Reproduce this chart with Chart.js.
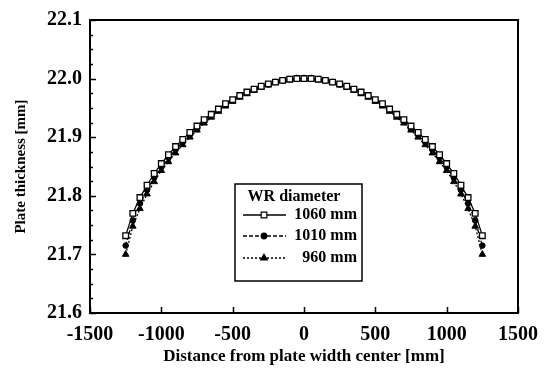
<!DOCTYPE html>
<html>
<head>
<meta charset="utf-8">
<script src="https://cdn.jsdelivr.net/npm/chart.js@4/dist/chart.umd.min.js"></script>
<style>
html,body{margin:0;padding:0;background:#fff;}
#wrap{width:548px;height:374px;position:relative;}
</style>
</head>
<body>
<div id="wrap"><canvas id="c" width="548" height="374"></canvas></div>
<script>
// ---- data ----
const positions = [-1250,-1200,-1150,-1100,-1050,-1000,-950,-900,-850,-800,-750,-700,-650,-600,-550,-500,-450,-400,-350,-300,-250,-200,-150,-100,-50,0,50,100,150,200,250,300,350,400,450,500,550,600,650,700,750,800,850,900,950,1000,1050,1100,1150,1200,1250];
const thick1060 = [21.732,21.770,21.797,21.818,21.838,21.855,21.870,21.884,21.896,21.908,21.919,21.930,21.939,21.948,21.957,21.964,21.971,21.977,21.982,21.987,21.991,21.994,21.997,21.999,22.000,22.000,22.000,21.999,21.997,21.994,21.991,21.987,21.982,21.977,21.971,21.964,21.957,21.948,21.939,21.930,21.919,21.908,21.896,21.884,21.870,21.855,21.838,21.818,21.797,21.770,21.732];
const thick1010 = [21.715,21.758,21.787,21.810,21.831,21.849,21.865,21.879,21.892,21.904,21.916,21.927,21.937,21.946,21.956,21.963,21.970,21.976,21.981,21.986,21.990,21.994,21.997,21.999,22.000,22.000,22.000,21.999,21.997,21.994,21.990,21.986,21.981,21.976,21.970,21.963,21.956,21.946,21.937,21.927,21.916,21.904,21.892,21.879,21.865,21.849,21.831,21.810,21.787,21.758,21.715];
const thick960 = [21.700,21.748,21.778,21.803,21.824,21.843,21.858,21.873,21.887,21.900,21.912,21.924,21.934,21.944,21.953,21.961,21.968,21.974,21.980,21.985,21.989,21.993,21.996,21.998,22.000,22.000,22.000,21.998,21.996,21.993,21.989,21.985,21.980,21.974,21.968,21.961,21.953,21.944,21.934,21.924,21.912,21.900,21.887,21.873,21.858,21.843,21.824,21.803,21.778,21.748,21.700];
const seriesLabels = ['1060 mm','1010 mm','960 mm'];
const legendTitle = 'WR diameter';
const xTitle = 'Distance from plate width center [mm]';
const yTitle = 'Plate thickness [mm]';

const SERIF = '"Liberation Serif","DejaVu Serif",serif';
const pts = arr => positions.map((x,i)=>({x:x,y:arr[i]}));

const frameAndTicks = {
  id:'frameAndTicks',
  afterDraw(chart){
    const ctx = chart.ctx, a = chart.chartArea;
    const xs = chart.scales.x, ys = chart.scales.y;
    ctx.save();
    ctx.strokeStyle = '#000';
    ctx.lineWidth = 1.5;
    for (let k=0;k<=20;k++){
      const v = 21.6 + k*0.025;
      const py = Math.round(ys.getPixelForValue(v))+0.5;
      const len = (k%4===0)?6:3;
      ctx.beginPath(); ctx.moveTo(a.left,py); ctx.lineTo(a.left+len,py); ctx.stroke();
    }
    for (let k=0;k<=6;k++){
      const v = -1500 + k*500;
      const px = Math.round(xs.getPixelForValue(v))+0.5;
      ctx.beginPath(); ctx.moveTo(px,a.bottom); ctx.lineTo(px,a.bottom-6); ctx.stroke();
    }
    ctx.lineWidth = 2;
    ctx.strokeRect(a.left, a.top, a.right-a.left, a.bottom-a.top);
    ctx.restore();
  }
};

const boxLegend = {
  id:'boxLegend',
  afterDatasetsDraw(chart){
    const ctx = chart.ctx;
    const L=235, T=184, R=362, B=281;
    ctx.save();
    ctx.fillStyle='#fff';
    ctx.fillRect(L,T,R-L,B-T);
    ctx.strokeStyle='#000'; ctx.lineWidth=1.5;
    ctx.strokeRect(L,T,R-L,B-T);
    ctx.fillStyle='#000';
    ctx.font='bold 16px '+SERIF;
    ctx.textBaseline='middle';
    ctx.textAlign='center';
    ctx.fillText(legendTitle, 294, 197);
    const rows=[215,236,258];
    chart.data.datasets.forEach((ds,i)=>{
      const y=rows[i];
      ctx.strokeStyle='#000'; ctx.lineWidth=1.3;
      ctx.setLineDash(ds.borderDash||[]);
      ctx.beginPath(); ctx.moveTo(243,y); ctx.lineTo(286,y); ctx.stroke();
      ctx.setLineDash([]);
      ctx.fillStyle=ds.pointBackgroundColor;
      ctx.strokeStyle='#000';
      ctx.lineWidth=1.2;
      Chart.helpers.drawPoint(ctx,{pointStyle:ds.pointStyle,radius:ds.pointRadius,borderWidth:1.2},264,y);
      ctx.fillStyle='#000';
      ctx.textAlign='right';
      ctx.font='bold 16px '+SERIF;
      ctx.fillText(ds.label, 357, y);
    });
    ctx.restore();
  }
};

new Chart(document.getElementById('c'),{
  type:'line',
  data:{datasets:[
    {label:seriesLabels[0],data:pts(thick1060),borderColor:'#000',borderWidth:1.3,pointStyle:'rect',pointRadius:4,pointBackgroundColor:'#fff',pointBorderColor:'#000',pointBorderWidth:1.3},
    {label:seriesLabels[1],data:pts(thick1010),borderColor:'#000',borderWidth:1.3,borderDash:[4,2],pointStyle:'circle',pointRadius:2.8,pointBackgroundColor:'#000',pointBorderColor:'#000',pointBorderWidth:1},
    {label:seriesLabels[2],data:pts(thick960),borderColor:'#000',borderWidth:1.3,borderDash:[2,2],pointStyle:'triangle',pointRadius:3.8,pointBackgroundColor:'#000',pointBorderColor:'#000',pointBorderWidth:1}
  ]},
  options:{
    responsive:false, animation:false,
    layout:{padding:{top:16,right:28,left:0,bottom:0}},
    plugins:{legend:{display:false},tooltip:{enabled:false}},
    scales:{
      x:{type:'linear',min:-1500,max:1500,
        ticks:{stepSize:500,color:'#000',padding:10,maxRotation:0,font:{family:SERIF,size:20,weight:'bold'},callback:v=>String(v)},
        grid:{display:false,drawTicks:false},border:{display:false},
        title:{display:true,text:xTitle,color:'#000',font:{family:SERIF,size:17,weight:'bold'},padding:{top:0,bottom:7}},
        afterFit(s){s.height=61;}
      },
      y:{min:21.6,max:22.1,
        ticks:{stepSize:0.1,color:'#000',padding:8,font:{family:SERIF,size:20,weight:'bold'},callback:v=>Number(v).toFixed(1)},
        grid:{display:false,drawTicks:false},border:{display:false},
        title:{display:true,text:yTitle,color:'#000',font:{family:SERIF,size:15,weight:'bold'},padding:{top:12,bottom:0}},
        afterFit(s){s.width=90;}
      }
    }
  },
  plugins:[boxLegend,frameAndTicks]
});
</script>
</body>
</html>
